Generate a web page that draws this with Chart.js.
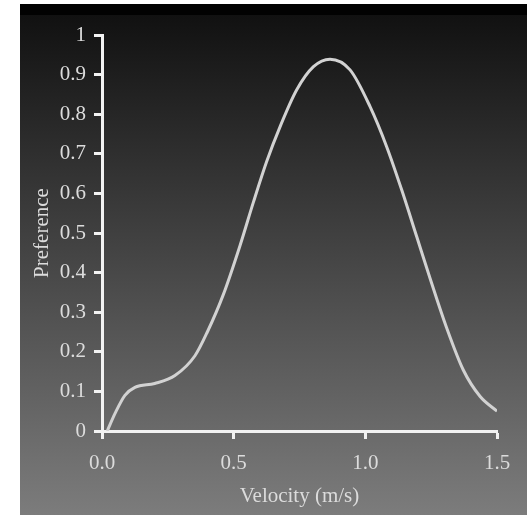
<!DOCTYPE html>
<html>
<head>
<meta charset="utf-8">
<script src="https://cdn.jsdelivr.net/npm/chart.js@4/dist/chart.umd.min.js"></script>
<style>
  html, body { margin: 0; padding: 0; background: #ffffff; }
  #panel {
    position: absolute; left: 20px; top: 4px; width: 507px; height: 511px;
    background: linear-gradient(to bottom, #020202 0px, #020202 11px, #111111 11px, #7c7c7c 100%);
  }
  #wrap { position: absolute; left: 0; top: 0; width: 507px; height: 511px; }
</style>
</head>
<body>
<div id="panel"><div id="wrap"><canvas id="c" width="507" height="511"></canvas></div></div>
<script>
// Data
const velocity = [0.02, 0.05, 0.087, 0.125, 0.2, 0.277, 0.353, 0.40, 0.461, 0.524, 0.575, 0.625, 0.676, 0.739, 0.803, 0.866, 0.942, 1.018, 1.081, 1.138, 1.195, 1.246, 1.309, 1.372, 1.436, 1.5];
const preference = [0, 0.045, 0.09, 0.11, 0.12, 0.14, 0.19, 0.25, 0.345, 0.468, 0.578, 0.680, 0.768, 0.861, 0.920, 0.939, 0.912, 0.819, 0.718, 0.609, 0.491, 0.385, 0.260, 0.154, 0.087, 0.05];
const xTicks = [0.0, 0.5, 1.0, 1.5];
const yTicks = [0, 0.1, 0.2, 0.3, 0.4, 0.5, 0.6, 0.7, 0.8, 0.9, 1];
const xTitle = 'Velocity (m/s)';
const yTitle = 'Preference';

const points = velocity.map((v, i) => ({ x: v, y: preference[i] }));
const tickFont = { family: '"Liberation Serif", "Times New Roman", serif', size: 21 };
const titleFont = { family: '"Liberation Serif", "Times New Roman", serif', size: 21 };
const textColor = '#dcdcdc';
const axisColor = '#f2f2f2';

new Chart(document.getElementById('c'), {
  type: 'scatter',
  data: {
    datasets: [{
      data: points,
      showLine: true,
      borderColor: '#d2d2d2',
      borderWidth: 3,
      pointRadius: 0,
      cubicInterpolationMode: 'monotone',
      fill: false
    }]
  },
  options: {
    responsive: false,
    animation: false,
    devicePixelRatio: 1,
    layout: { padding: { top: 31, right: 30, left: 0, bottom: 0 } },
    plugins: { legend: { display: false }, tooltip: { enabled: false } },
    scales: {
      x: {
        type: 'linear', min: 0, max: 1.5,
        afterBuildTicks: s => { s.ticks = xTicks.map(v => ({ value: v })); },
        afterFit: s => { s.height = 84; },
        ticks: { color: textColor, font: tickFont, padding: 12, maxRotation: 0,
                 callback: v => Number(v).toFixed(1) },
        grid: { display: true, drawOnChartArea: false, drawTicks: true, tickLength: 8, tickWidth: 3, tickColor: axisColor },
        border: { display: true, color: axisColor, width: 3 },
        title: { display: true, text: xTitle, color: textColor, font: titleFont, padding: { top: 4, bottom: 6 } }
      },
      y: {
        type: 'linear', min: 0, max: 1,
        afterBuildTicks: s => { s.ticks = yTicks.map(v => ({ value: v })); },
        afterFit: s => { s.width = 82; },
        ticks: { color: textColor, font: tickFont, padding: 8,
                 callback: v => String(Math.round(v * 10) / 10) },
        grid: { display: true, drawOnChartArea: false, drawTicks: true, tickLength: 8, tickWidth: 3, tickColor: axisColor },
        border: { display: true, color: axisColor, width: 3 },
        title: { display: true, text: yTitle, color: textColor, font: titleFont, padding: { top: 10, bottom: 0 } }
      }
    }
  }
});
</script>
</body>
</html>
